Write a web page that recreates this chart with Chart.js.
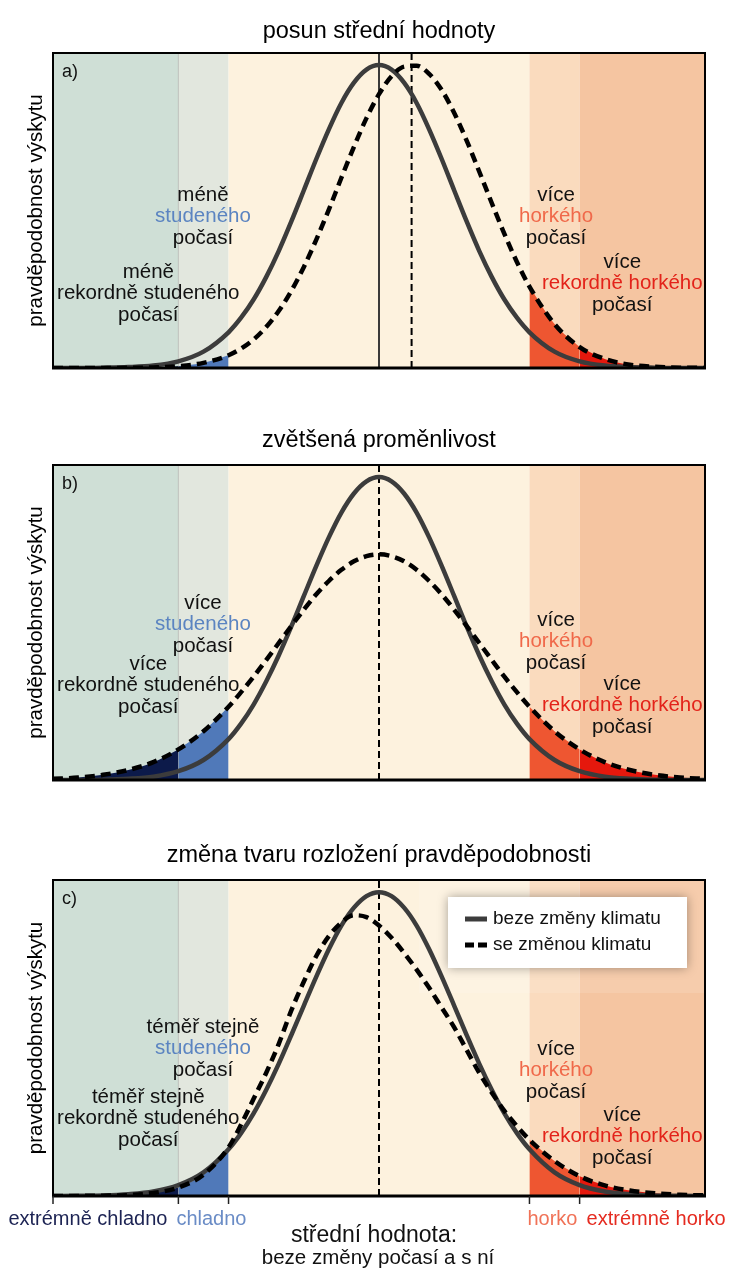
<!DOCTYPE html>
<html><head><meta charset="utf-8">
<script src="https://cdn.jsdelivr.net/npm/chart.js@4.4.1/dist/chart.umd.min.js"></script>
<style>
html,body{margin:0;padding:0;background:#fff;}
#wrap{position:relative;width:732px;height:1275px;overflow:hidden;}
canvas{position:absolute;left:0;}
</style></head><body>
<div id="wrap">
<canvas id="ca" width="732" height="400" style="top:0px"></canvas>
<canvas id="cb" width="732" height="400" style="top:410px"></canvas>
<canvas id="cc" width="732" height="450" style="top:825px"></canvas>
</div>
<script>
// ---------------- data ----------------
const xGrid = [-6.5,-6,-5.5,-5,-4.5,-4,-3.5,-3,-2.75,-2.5,-2.25,-2,-1.75,-1.5,-1.25,-1,-0.75,-0.5,-0.25,0,0.25,0.5,0.75,1,1.25,1.5,1.75,2,2.25,2.5,2.75,3,3.5,4,4.5,5,5.5,6,6.5];
const xRange = [-6.5, 6.5];
const thresholds = [-4, -3, 3, 4];
const tickValues = [-6.5, -4, -3, 3, 4];
const seriesLabels = ['beze změny klimatu', 'se změnou klimatu'];
const titles = ['posun střední hodnoty', 'zvětšená proměnlivost', 'změna tvaru rozložení pravděpodobnosti'];
const panelLabels = ['a)', 'b)', 'c)'];
const yTitle = 'pravděpodobnost výskytu';

const solidA  = [0,0,0.001,0.003,0.008,0.022,0.054,0.118,0.166,0.226,0.300,0.386,0.483,0.586,0.690,0.788,0.875,0.942,0.985,1.000,0.985,0.942,0.875,0.788,0.690,0.586,0.483,0.386,0.300,0.226,0.166,0.118,0.054,0.022,0.008,0.003,0.001,0,0];
const dashedA = [0,0,0.0001,0.0005,0.002,0.006,0.017,0.042,0.064,0.094,0.135,0.188,0.254,0.333,0.424,0.523,0.628,0.730,0.825,0.904,0.963,0.995,0.998,0.971,0.918,0.842,0.750,0.648,0.544,0.443,0.350,0.269,0.145,0.069,0.030,0.011,0.004,0.001,0.0003];
const solidB  = [0.0001,0.0003,0.001,0.004,0.011,0.029,0.066,0.135,0.186,0.249,0.325,0.411,0.506,0.607,0.707,0.801,0.883,0.946,0.986,1.000,0.986,0.946,0.883,0.801,0.707,0.607,0.506,0.411,0.325,0.249,0.186,0.135,0.066,0.029,0.011,0.004,0.001,0.0003,0.0001];
const dashedB = [0.004,0.008,0.017,0.033,0.059,0.101,0.161,0.242,0.290,0.341,0.396,0.452,0.508,0.562,0.613,0.657,0.694,0.722,0.739,0.745,0.739,0.722,0.694,0.657,0.613,0.562,0.508,0.452,0.396,0.341,0.290,0.242,0.161,0.101,0.059,0.033,0.017,0.008,0.004];
const solidC  = [0.0002,0.0006,0.002,0.006,0.015,0.036,0.078,0.154,0.207,0.272,0.349,0.435,0.529,0.626,0.722,0.812,0.890,0.949,0.987,1.000,0.987,0.949,0.890,0.812,0.722,0.626,0.529,0.435,0.349,0.272,0.207,0.154,0.078,0.036,0.015,0.006,0.002,0.0006,0.0002];
const dashedC = [0.0001,0.0003,0.001,0.003,0.010,0.028,0.070,0.160,0.235,0.320,0.405,0.500,0.610,0.705,0.790,0.855,0.900,0.924,0.918,0.890,0.850,0.800,0.745,0.685,0.620,0.555,0.480,0.405,0.340,0.280,0.230,0.185,0.115,0.065,0.035,0.018,0.009,0.004,0.002];

const meanOld = 0;
const meanNew = [0.65, 0, 0];

const notesText = [
  [['méně','studeného','počasí'], ['méně','rekordně studeného','počasí'], ['více','horkého','počasí'], ['více','rekordně horkého','počasí']],
  [['více','studeného','počasí'], ['více','rekordně studeného','počasí'], ['více','horkého','počasí'], ['více','rekordně horkého','počasí']],
  [['téměř stejně','studeného','počasí'], ['téměř stejně','rekordně studeného','počasí'], ['více','horkého','počasí'], ['více','rekordně horkého','počasí']]
];
const bottomLabels = ['extrémně chladno', 'chladno', 'horko', 'extrémně horko'];
const bottomLabelAnchors = [-4, -4, 3, 4];
const axisTitle = ['střední hodnota:', 'beze změny počasí a s ní'];

// ---------------- style / layout ----------------
const FONT = '"Liberation Sans", Arial, Helvetica, sans-serif';
Chart.defaults.font.family = FONT;
const STYLE = {
  bands: ['#cfdfd6', '#e2e7de', '#fdf2de', '#fadbbe', '#f5c5a1'],
  fills: ['#0c1a4a', '#5079b9', null, '#ee5631', '#e5180d'],
  solid: '#3c3c3c',
  noteColors: ['#5b84c1', '#111111', '#f0694a', '#e3231a'],
  bottomColors: ['#1c2353', '#6a8cc6', '#f07257', '#e52b20'],
  bottomAlign: ['right', 'left', 'left', 'left'],
  bottomDx: [-11, -2, -2, 7],
  noteX: [-3.51, -4.6, 3.53, 4.85],
  noteTop: [[142, 219, 142, 209], [138, 199, 155, 219], [147, 217, 169, 235]],
  lineGap: 21.5
};

function makePanel(canvasId, idx, solid, dashed, layout) {
  const pts = ys => xGrid.map((x, i) => ({x: x, y: ys[i]}));
  const zones = [xRange[0]].concat(thresholds, [xRange[1]]);
  const fillSets = [];
  for (let k = 0; k < zones.length - 1; k++) {
    const col = STYLE.fills[k];
    if (!col) continue;
    const lo = zones[k], hi = zones[k + 1];
    fillSets.push({
      label: 'fill' + k,
      data: pts(dashed).filter(q => q.x >= lo - 1e-9 && q.x <= hi + 1e-9),
      fill: 'origin', backgroundColor: col, borderWidth: 0, borderColor: 'rgba(0,0,0,0)',
      pointRadius: 0, order: 2, cubicInterpolationMode: 'monotone'
    });
  }
  const deco = {
    id: 'deco' + canvasId,
    beforeDatasetsDraw(chart) {
      const ctx = chart.ctx, ca = chart.chartArea, xs = chart.scales.x;
      ctx.save();
      for (let k = 0; k < zones.length - 1; k++) {
        const a = xs.getPixelForValue(zones[k]), b = xs.getPixelForValue(zones[k + 1]);
        ctx.fillStyle = STYLE.bands[k];
        ctx.fillRect(a, ca.top, b - a, ca.bottom - ca.top);
      }
      const bx = xs.getPixelForValue(thresholds[0]);
      ctx.strokeStyle = 'rgba(120,120,120,0.35)'; ctx.lineWidth = 1;
      ctx.beginPath(); ctx.moveTo(bx, ca.top); ctx.lineTo(bx, ca.bottom); ctx.stroke();
      if (layout.legend) {
        ctx.fillStyle = 'rgba(255,255,255,0.12)';
        ctx.fillRect(ca.left + 366, ca.top, ca.right - ca.left - 366, 113);
      }
      const m0 = xs.getPixelForValue(meanOld), m1 = xs.getPixelForValue(meanNew[idx]);
      if (meanNew[idx] !== meanOld) {
        ctx.strokeStyle = '#3a3a3a'; ctx.lineWidth = 2; ctx.setLineDash([]);
        ctx.beginPath(); ctx.moveTo(m0, ca.bottom); ctx.lineTo(m0, ca.top); ctx.stroke();
      }
      ctx.strokeStyle = '#000'; ctx.lineWidth = 2; ctx.setLineDash([7, 4]);
      ctx.beginPath(); ctx.moveTo(m1, ca.bottom); ctx.lineTo(m1, ca.top); ctx.stroke();
      ctx.restore();
    },
    afterDatasetsDraw(chart) {
      const ctx = chart.ctx, ca = chart.chartArea, xs = chart.scales.x;
      ctx.save();
      ctx.setLineDash([]);
      ctx.strokeStyle = '#000'; ctx.lineWidth = 2;
      ctx.strokeRect(ca.left, ca.top, ca.right - ca.left, ca.bottom - ca.top);
      ctx.lineWidth = 3;
      ctx.beginPath(); ctx.moveTo(ca.left - 1, ca.bottom); ctx.lineTo(ca.right + 1, ca.bottom); ctx.stroke();
      ctx.fillStyle = '#111'; ctx.font = '18px ' + FONT;
      ctx.textAlign = 'left'; ctx.textBaseline = 'middle';
      ctx.fillText(panelLabels[idx], ca.left + 9, ca.top + 19);
      ctx.font = '20.5px ' + FONT; ctx.textAlign = 'center';
      notesText[idx].forEach((lines, g) => {
        const x = xs.getPixelForValue(STYLE.noteX[g]);
        lines.forEach((t, j) => {
          ctx.fillStyle = j === 1 ? STYLE.noteColors[g] : '#111';
          ctx.fillText(t, x, ca.top + STYLE.noteTop[idx][g] + j * STYLE.lineGap);
        });
      });
      if (layout.legend) {
        const L = ca.right - 257, T = ca.top + 17, W = 239, H = 71;
        ctx.save();
        ctx.shadowColor = 'rgba(0,0,0,0.35)'; ctx.shadowBlur = 10;
        ctx.fillStyle = '#fff'; ctx.fillRect(L, T, W, H);
        ctx.restore();
        chart.data.datasets.slice(0, 2).forEach((ds, i) => {
          const y = T + 22 + i * 26;
          ctx.strokeStyle = ds.borderColor; ctx.lineWidth = 5;
          ctx.setLineDash(i ? [9, 4] : []);
          ctx.beginPath(); ctx.moveTo(L + 17, y); ctx.lineTo(L + 39, y); ctx.stroke();
          ctx.setLineDash([]);
          ctx.fillStyle = '#111'; ctx.font = '19px ' + FONT;
          ctx.textAlign = 'left'; ctx.textBaseline = 'middle';
          ctx.fillText(ds.label, L + 45, y);
        });
      }
      if (layout.axis) {
        ctx.strokeStyle = '#222'; ctx.lineWidth = 1.5;
        tickValues.forEach(v => {
          const x = xs.getPixelForValue(v);
          ctx.beginPath(); ctx.moveTo(x, ca.bottom); ctx.lineTo(x, ca.bottom + 8); ctx.stroke();
        });
        ctx.font = '20px ' + FONT; ctx.textBaseline = 'middle';
        bottomLabels.forEach((t, i) => {
          ctx.fillStyle = STYLE.bottomColors[i];
          ctx.textAlign = STYLE.bottomAlign[i];
          ctx.fillText(t, xs.getPixelForValue(bottomLabelAnchors[i]) + STYLE.bottomDx[i], ca.bottom + 23);
        });
        const mx = xs.getPixelForValue(meanOld);
        ctx.fillStyle = '#111'; ctx.textAlign = 'center';
        ctx.font = '23px ' + FONT;
        ctx.fillText(axisTitle[0], mx - 5, ca.bottom + 40);
        ctx.font = '20.5px ' + FONT;
        ctx.fillText(axisTitle[1], mx - 1, ca.bottom + 62);
      }
      ctx.restore();
    }
  };
  return new Chart(document.getElementById(canvasId), {
    type: 'line',
    data: {datasets: [
      {label: seriesLabels[0], data: pts(solid), borderColor: STYLE.solid, borderWidth: 4.5,
       pointRadius: 0, fill: false, order: 1, cubicInterpolationMode: 'monotone'},
      {label: seriesLabels[1], data: pts(dashed), borderColor: '#000', borderWidth: 4.5, borderDash: [10, 6],
       pointRadius: 0, fill: false, order: 0, cubicInterpolationMode: 'monotone'}
    ].concat(fillSets)},
    options: {
      responsive: false, devicePixelRatio: 1, animation: false, events: [],
      layout: {padding: {left: 0, right: 27, top: 0, bottom: layout.padBottom}},
      plugins: {
        legend: {display: false}, tooltip: {enabled: false},
        title: {display: true, text: titles[idx], fullSize: false, color: '#000',
                font: {family: FONT, size: 23.5, weight: 'normal'},
                padding: {top: layout.tTop, bottom: layout.tBot}}
      },
      scales: {
        x: {type: 'linear', min: xRange[0], max: xRange[1], display: false},
        y: {min: 0, max: 1.04, ticks: {display: false}, grid: {display: false}, border: {display: false},
            title: {display: true, text: yTitle, color: '#000', font: {family: FONT, size: 20.5},
                    padding: {top: 24, bottom: 0}},
            afterFit(s) { s.width = 53; }}
      }
    },
    plugins: [deco]
  });
}

makePanel('ca', 0, solidA, dashedA, {padBottom: 32, tTop: 17.9, tBot: 6.9});
makePanel('cb', 1, solidB, dashedB, {padBottom: 30, tTop: 16.9, tBot: 9.9});
makePanel('cc', 2, solidC, dashedC, {padBottom: 79, tTop: 16.9, tBot: 9.9, legend: true, axis: true});
</script>
</body></html>
